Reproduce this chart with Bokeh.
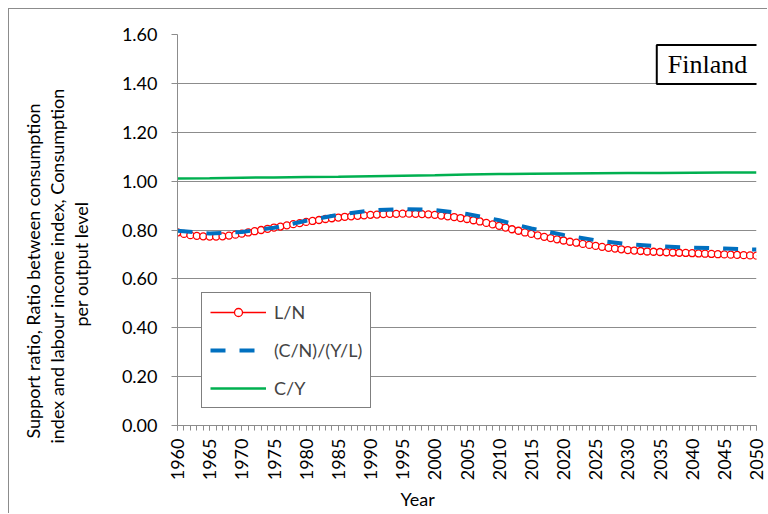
import math
from bokeh.plotting import figure
from bokeh.models import Range1d, SingleIntervalTicker, FixedTicker, NumeralTickFormatter, Label, Legend, Title
from bokeh.embed import file_html
from bokeh.resources import INLINE

years = list(range(1960, 2051))
years_5 = list(range(1960, 2051, 5))

# L/N, support ratio, one value per year
l_n = [
    0.790, 0.784, 0.779, 0.776, 0.774, 0.773, 0.773, 0.774, 0.777, 0.781,
    0.785, 0.790, 0.795, 0.800, 0.805, 0.810, 0.814, 0.819, 0.824, 0.828,
    0.833, 0.837, 0.841, 0.845, 0.848, 0.851, 0.854, 0.856, 0.858, 0.860,
    0.862, 0.863, 0.865, 0.866, 0.866, 0.867, 0.867, 0.866, 0.865, 0.864,
    0.862, 0.859, 0.856, 0.853, 0.849, 0.845, 0.840, 0.835, 0.829, 0.823,
    0.817, 0.810, 0.803, 0.797, 0.790, 0.784, 0.778, 0.772, 0.767, 0.762,
    0.757, 0.752, 0.748, 0.743, 0.739, 0.735, 0.731, 0.727, 0.724, 0.721,
    0.718, 0.716, 0.714, 0.712, 0.711, 0.710, 0.709, 0.708, 0.707, 0.706,
    0.705, 0.704, 0.703, 0.702, 0.701, 0.700, 0.699, 0.698, 0.697, 0.696,
    0.695,
]
# (C/N)/(Y/L), read every 5 years
cn_yl = [0.797, 0.786, 0.792, 0.809, 0.838, 0.862, 0.880, 0.886, 0.882, 0.866,
         0.840, 0.806, 0.780, 0.758, 0.742, 0.733, 0.728, 0.724, 0.720]
# C/Y, read every 5 years
c_y = [1.011, 1.012, 1.014, 1.015, 1.017, 1.018, 1.020, 1.022, 1.024, 1.027,
       1.029, 1.030, 1.031, 1.032, 1.033, 1.033, 1.034, 1.035, 1.035]

y_ticks = [0.0, 0.2, 0.4, 0.6, 0.8, 1.0, 1.2, 1.4, 1.6]
y_title = ["Support ratio, Ratio between consumption",
           "index and labour income index, Consumption",
           "per output level"]
x_title = "Year"
country = "Finland"

FONT = "Lato"
GRID = "#8c8c8c"

p = figure(width=759, height=505, output_backend="svg", toolbar_location=None,
           x_range=Range1d(1960, 2050), y_range=Range1d(0, 1.6),
           min_border_left=168, min_border_right=12, min_border_top=25, min_border_bottom=89)
p.outline_line_color = None
p.styles = {"margin-left": "8px", "margin-top": "8px",
            "border-left": "1px solid #8c8c8c", "border-top": "1px solid #8c8c8c"}

r1 = p.line(years, l_n, line_color="#ff0000", line_width=1.5)
r1b = p.scatter(years, l_n, marker="circle", size=7, line_color="#ff0000",
                fill_color="white", line_width=1.3)
r2 = p.line(years_5, cn_yl, line_color="#0070c0", line_width=4, line_dash="15 14")
r3 = p.line(years_5, c_y, line_color="#00b050", line_width=2.5)

# axes
p.xaxis.ticker = SingleIntervalTicker(interval=5, num_minor_ticks=5)
p.xaxis.major_label_orientation = math.pi / 2
p.xaxis.major_tick_out = 5
p.xaxis.major_tick_in = 0
p.xaxis.minor_tick_out = 5
p.xaxis.minor_tick_in = 0
p.xaxis.major_label_standoff = 8
p.yaxis.ticker = FixedTicker(ticks=y_ticks)
p.yaxis.formatter = NumeralTickFormatter(format="0.00")
p.yaxis.major_tick_out = 6
p.yaxis.major_tick_in = 0
p.yaxis.major_label_standoff = 14
for ax in (p.xaxis, p.yaxis):
    ax.axis_line_color = GRID
    ax.major_tick_line_color = GRID
    ax.minor_tick_line_color = GRID
    ax.major_label_text_font = FONT
    ax.major_label_text_font_size = "18px"
    ax.major_label_text_color = "black"
p.yaxis.minor_tick_line_color = None
p.xgrid.grid_line_color = None
p.ygrid.grid_line_color = GRID
p.ygrid.ticker = FixedTicker(ticks=y_ticks)

# gap between tick labels and the y title
p.add_layout(Title(text=" ", text_font_size="1px", standoff=24), "left")
# axis titles, nearest line first
for line, off in zip(reversed(y_title), [99, -18, -13]):
    p.add_layout(Title(text=line, align="left", offset=off, standoff=0,
                       text_font=FONT, text_font_size="18px", text_font_style="normal",
                       text_color="black"), "left")
p.add_layout(Title(text=x_title, align="left", offset=223, standoff=4,
                   text_font=FONT, text_font_size="18px", text_font_style="normal",
                   text_color="black"), "below")

# country box
p.add_layout(Label(x=530, y=361, x_units="screen", y_units="screen", text=country,
                   text_align="center", text_baseline="middle",
                   text_font="Liberation Serif", text_font_size="26px",
                   text_color="black", border_line_color="black", border_line_width=2,
                   background_fill_color="white", padding=(11, 5)))

legend = Legend(items=[("L/N", [r1, r1b]), ("(C/N)/(Y/L)", [r2]), ("C/Y", [r3])],
                location=(24, 17), glyph_width=56, glyph_height=20, label_height=20,
                spacing=16, padding=8, margin=0, label_standoff=8,
                label_text_font=FONT, label_text_font_size="18px",
                border_line_color="black", border_line_width=1,
                background_fill_alpha=1)
p.add_layout(legend)

open("out.html", "w").write(file_html(p, INLINE))
